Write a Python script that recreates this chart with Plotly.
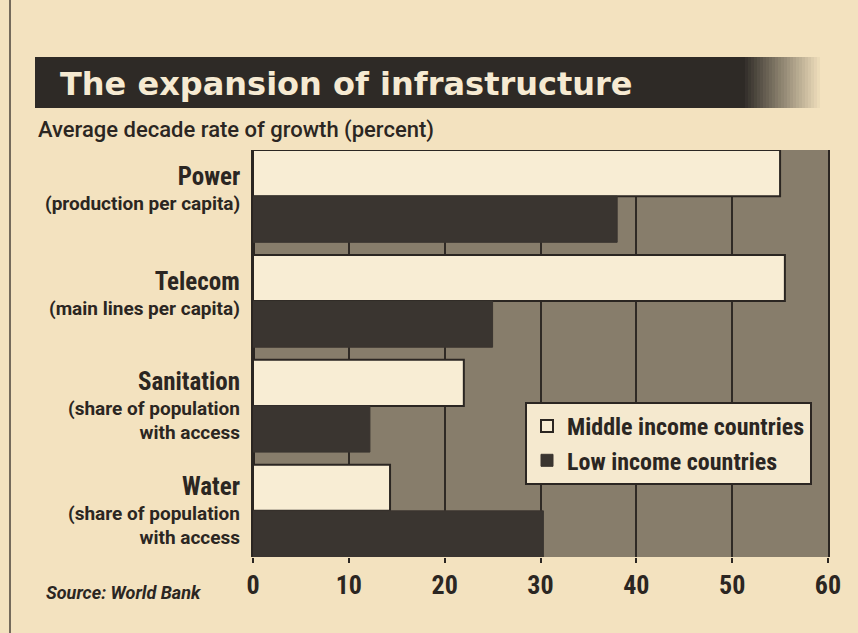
import plotly.graph_objects as go

# ---- data ----
categories = ["Power", "Telecom", "Sanitation", "Water"]
sublabels = ["(production per capita)", "(main lines per capita)",
             "(share of population<br>with access", "(share of population<br>with access"]
middle_income = [55, 55.5, 22, 14.3]
low_income = [38, 25, 12.2, 30.3]
series_names = ["Middle income countries", "Low income countries"]
x_ticks = [0, 10, 20, 30, 40, 50, 60]

# ---- style ----
PAPER = "#f3e2bf"
PLOTBG = "#877d6b"
INK = "#2b2622"
LIGHT = "#f8edd4"
COND = "Roboto Condensed, Liberation Sans Narrow, DejaVu Sans Condensed, Roboto, Liberation Sans"
REG = "Roboto, Liberation Sans, Arial"

# plot area in pixels
L, R, T, B = 253, 828, 150, 557
W, H = 858, 633
def px(x):
    return (x - L) / (R - L)
def py(y):
    return (B - y) / (B - T)

ypos = list(range(len(categories)))
fig = go.Figure()
fig.add_trace(go.Bar(
    y=ypos, x=middle_income, orientation="h", name=series_names[0],
    marker=dict(color=LIGHT, line=dict(color=INK, width=2)),
))
fig.add_trace(go.Bar(
    y=ypos, x=low_income, orientation="h", name=series_names[1],
    marker=dict(color="#3a3530", line=dict(color="#3a3530", width=1)),
))

gap = 0.12
half = (1 - gap) / 2

shapes = []
# title bar with fading right end
shapes.append(dict(type="rect", xref="paper", yref="paper",
                   x0=px(35), x1=px(745), y0=py(108), y1=py(57),
                   fillcolor="#2e2a26", line=dict(width=0), layer="above"))
steps = 25
for i in range(steps):
    xa = 745 + i * 3
    op = 1 - (i + 1) / (steps + 1)
    shapes.append(dict(type="rect", xref="paper", yref="paper",
                       x0=px(xa), x1=px(xa + 3), y0=py(108), y1=py(57),
                       fillcolor="#2e2a26", opacity=op, line=dict(width=0), layer="above"))
# clipping border line on left
shapes.append(dict(type="line", xref="paper", yref="paper",
                   x0=px(10), x1=px(10), y0=py(0), y1=py(633),
                   line=dict(color="#4a423a", width=1.5)))

annotations = []
annotations.append(dict(text="<b>The expansion of infrastructure</b>", xref="paper", yref="paper",
                        x=px(58), y=py(84), xanchor="left", yanchor="middle", showarrow=False,
                        font=dict(family="DejaVu Sans, Liberation Sans", size=32, color="#f6ead2")))
annotations.append(dict(text="Average decade rate of growth (percent)", xref="paper", yref="paper",
                        x=px(36), y=py(130), xanchor="left", yanchor="middle", showarrow=False,
                        font=dict(family=REG, size=22, weight=500, color=INK)))
annotations.append(dict(text="<b><i>Source: World Bank</i></b>", xref="paper", yref="paper",
                        x=px(44), y=py(592), xanchor="left", yanchor="middle", showarrow=False,
                        font=dict(family=REG, size=18, color=INK)))
for i, (c, s) in enumerate(zip(categories, sublabels)):
    nlines = 1 + s.count("<br>")
    annotations.append(dict(
        text=f"<span style='font-family:Roboto Condensed;font-size:25px'><b>{c}</b></span><br><b>{s}</b>",
        xref="paper", yref="y", x=px(242), y=i, xanchor="right", yanchor="middle",
        align="right", showarrow=False, yshift=8 if nlines == 1 else 0,
        font=dict(family=REG, size=19, color=INK)))

fig.update_layout(
    width=W, height=H,
    margin=dict(l=L, r=W - R, t=T, b=H - B),
    paper_bgcolor=PAPER, plot_bgcolor=PLOTBG,
    barmode="group", bargap=gap, bargroupgap=0,
    showlegend=True,
    legend=dict(x=px(525), y=py(402), xanchor="left", yanchor="top",
                bgcolor="#f5e9cf", bordercolor=INK, borderwidth=2,
                font=dict(family=COND, size=24, weight="bold", color=INK),
                traceorder="normal", itemwidth=30),
    xaxis=dict(range=[0, 60], tickvals=x_ticks, ticktext=[str(v) for v in x_ticks],
               showgrid=True, gridcolor="#2f2a25", gridwidth=2,
               zeroline=True, zerolinecolor=INK, zerolinewidth=3,
               ticks="outside", ticklen=5, tickcolor=INK, tickwidth=2,
               tickfont=dict(family=COND, size=26, weight="bold", color=INK),
               showline=False, fixedrange=True),
    yaxis=dict(range=[len(categories) - 1 + half, -half], tickvals=ypos,
               showticklabels=False, showgrid=False, zeroline=False,
               showline=True, mirror=True, linecolor=INK, linewidth=2),
    shapes=shapes, annotations=annotations,
    font=dict(family=COND, color=INK),
)

fig.write_html("out.html")
